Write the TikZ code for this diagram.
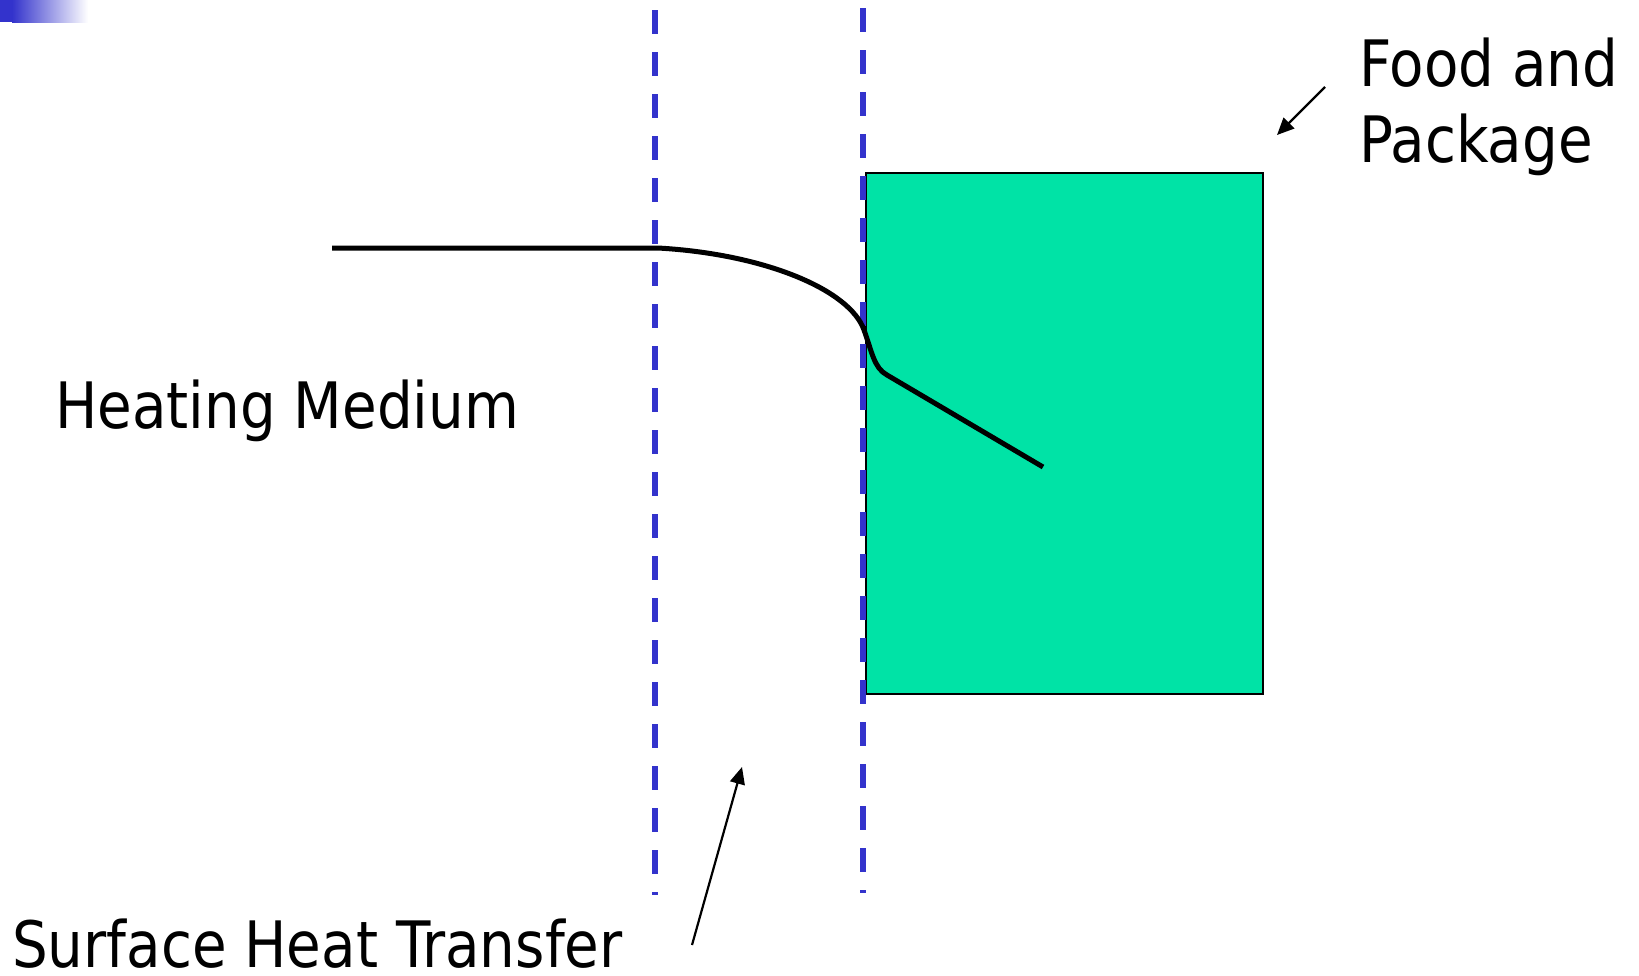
\documentclass[tikz,border=0pt]{standalone}
\usepackage{fontspec}
\setmainfont[FakeStretch=0.88]{DejaVu Sans}
\usetikzlibrary{arrows.meta}
\definecolor{slideblue}{RGB}{51,51,204}
\definecolor{foodgreen}{RGB}{0,227,166}
\begin{document}
\begin{tikzpicture}[x=1pt,y=-1pt,
  label text/.style={inner sep=0pt,anchor=base west,align=left,
    font=\fontsize{64}{76}\selectfont},
  boundary/.style={slideblue,line width=6pt,dash pattern=on 24pt off 18pt},
  pointer/.style={line width=2.2pt,-{Triangle[length=17pt,width=15pt]}},
  profile/.style={line width=5pt,line join=round}]
  \useasboundingbox (0,0) rectangle (1639,975);

  % corner ornament
  \fill[slideblue] (0,0) rectangle (12,22);
  \shade[left color=slideblue,right color=white] (12,0) rectangle (88,22);

  % food and package block
  \node[draw=black,line width=2pt,fill=foodgreen,minimum width=397pt,
        minimum height=521pt,inner sep=0pt,anchor=north west] (food) at (865,172) {};

  % boundary-layer limits
  \coordinate (b1top) at (655,10);
  \coordinate (b1bot) at (655,895);
  \coordinate (b2top) at (863,8);
  \coordinate (b2bot) at (863,893);
  \draw[boundary] (b1top) -- (b1bot);
  \draw[boundary] (b2top) -- (b2bot);

  % temperature profile
  \coordinate (p0) at (332,248);
  \coordinate (p1) at (658,248);
  \coordinate (p2) at (864,330);
  \coordinate (p3) at (887,375);
  \coordinate (p4) at (1043,467);
  \draw[profile] (p0) -- (p1)
    .. controls (765,254) and (850,290) .. (p2)
    .. controls (872,352) and (874,368) .. (p3) -- (p4);

  % labels
  \node[label text] (medium) at (55,428) {Heating Medium};
  \node[label text,text depth=0pt] (surface) at (12,967) {Surface Heat Transfer};
  \node[label text] (package) at (1359,162) {Food and\\Package};

  % pointers
  \coordinate (fa) at (1325,87);
  \coordinate (fb) at (1277,135);
  \draw[pointer] (fa) -- (fb);
  \coordinate (sa) at (692,945);
  \coordinate (sb) at (742,767);
  \draw[pointer] (sa) -- (sb);
\end{tikzpicture}
\end{document}
